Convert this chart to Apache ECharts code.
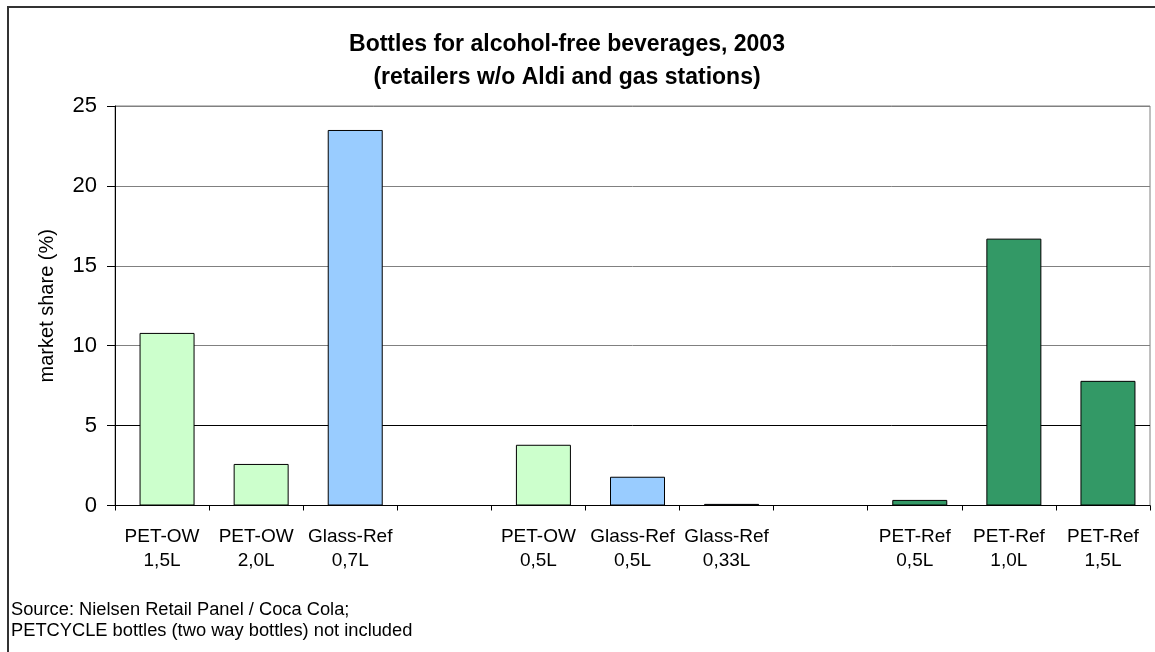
<!DOCTYPE html>
<html>
<head>
<meta charset="utf-8">
<script src="https://cdn.jsdelivr.net/npm/echarts@6/dist/echarts.min.js"></script>
<style>
  html, body { margin: 0; padding: 0; background: #fff; }
  #chart { width: 1155px; height: 652px; }
</style>
</head>
<body>
<div id="chart"></div>
<script>
// Bottle types and their market share in percent (empty slots separate the groups)
const categories = [
  'PET-OW\n1,5L', 'PET-OW\n2,0L', 'Glass-Ref\n0,7L', '',
  'PET-OW\n0,5L', 'Glass-Ref\n0,5L', 'Glass-Ref\n0,33L', '',
  'PET-Ref\n0,5L', 'PET-Ref\n1,0L', 'PET-Ref\n1,5L'
];
const shares = [10.8, 2.6, 23.5, null, 3.8, 1.8, 0.1, null, 0.35, 16.7, 7.8];
const bottleKinds = ['PET-OW', 'PET-OW', 'Glass-Ref', null, 'PET-OW', 'Glass-Ref', 'Glass-Ref', null, 'PET-Ref', 'PET-Ref', 'PET-Ref'];
const yTicks = [0, 5, 10, 15, 20, 25];

const titleLines = ['Bottles for alcohol-free beverages, 2003', '(retailers w/o Aldi and gas stations)'];
const sourceLines = ['Source: Nielsen Retail Panel / Coca Cola;', 'PETCYCLE bottles (two way bottles) not included'];

const kindColors = { 'PET-OW': '#CCFFCC', 'Glass-Ref': '#99CCFF', 'PET-Ref': '#339966' };

const FONT = 'Liberation Sans, Arial, sans-serif';

const barData = shares.map((v, i) => ({
  value: v,
  itemStyle: { color: bottleKinds[i] ? kindColors[bottleKinds[i]] : 'transparent' }
}));

const chart = echarts.init(document.getElementById('chart'), null, { renderer: 'canvas' });

chart.setOption({
  animation: false,
  backgroundColor: '#fff',
  grid: {
    left: 115, top: 106, right: 5, bottom: 146.5,
    show: true, borderColor: '#808080', borderWidth: 1, backgroundColor: 'transparent'
  },
  xAxis: {
    type: 'category',
    data: categories,
    axisLine: { show: true, lineStyle: { color: '#000', width: 1 } },
    axisTick: { show: true, alignWithLabel: false, length: 5, lineStyle: { color: '#000' } },
    axisLabel: {
      interval: 0, color: '#000', fontFamily: FONT, fontSize: 19, lineHeight: 24, margin: 19
    },
    splitLine: { show: false }
  },
  yAxis: {
    type: 'value',
    min: yTicks[0],
    max: yTicks[yTicks.length - 1],
    interval: yTicks[1] - yTicks[0],
    name: 'market share (%)',
    nameLocation: 'middle',
    nameRotate: 90,
    nameGap: 58,
    nameTextStyle: { color: '#000', fontFamily: FONT, fontSize: 20 },
    axisLine: { show: true, lineStyle: { color: '#000', width: 1 } },
    axisTick: { show: true, length: 8, lineStyle: { color: '#000' } },
    axisLabel: { color: '#000', fontFamily: FONT, fontSize: 22, margin: 18 },
    splitLine: {
      show: true,
      lineStyle: { color: ['#000', '#000', '#808080', '#808080', '#808080', '#808080'], width: 1 }
    }
  },
  series: [
    {
      // spacer series: shifts the visible bars slightly right of each category centre
      type: 'bar',
      data: shares.map(() => null),
      barWidth: 55,
      silent: true
    },
    {
      type: 'bar',
      data: barData,
      barWidth: 55,
      barGap: '-81.8%',
      itemStyle: { borderColor: '#000', borderWidth: 1 }
    }
  ],
  graphic: [
    {
      type: 'rect',
      shape: { x: 8, y: 7, width: 1400, height: 900 },
      style: { fill: 'none', stroke: '#333', lineWidth: 2 },
      silent: true
    },
    {
      type: 'text',
      x: 567, y: 45,
      style: {
        text: titleLines[0], font: 'bold 23px ' + FONT, fill: '#000',
        textAlign: 'center', textVerticalAlign: 'middle'
      }
    },
    {
      type: 'text',
      x: 567, y: 78,
      style: {
        text: titleLines[1], font: 'bold 23px ' + FONT, fill: '#000',
        textAlign: 'center', textVerticalAlign: 'middle'
      }
    },
    {
      type: 'text',
      x: 11, y: 610,
      style: {
        text: sourceLines[0], font: '18.3px ' + FONT, fill: '#000',
        textAlign: 'left', textVerticalAlign: 'middle'
      }
    },
    {
      type: 'text',
      x: 11, y: 631,
      style: {
        text: sourceLines[1], font: '18.3px ' + FONT, fill: '#000',
        textAlign: 'left', textVerticalAlign: 'middle'
      }
    }
  ]
});
</script>
</body>
</html>
